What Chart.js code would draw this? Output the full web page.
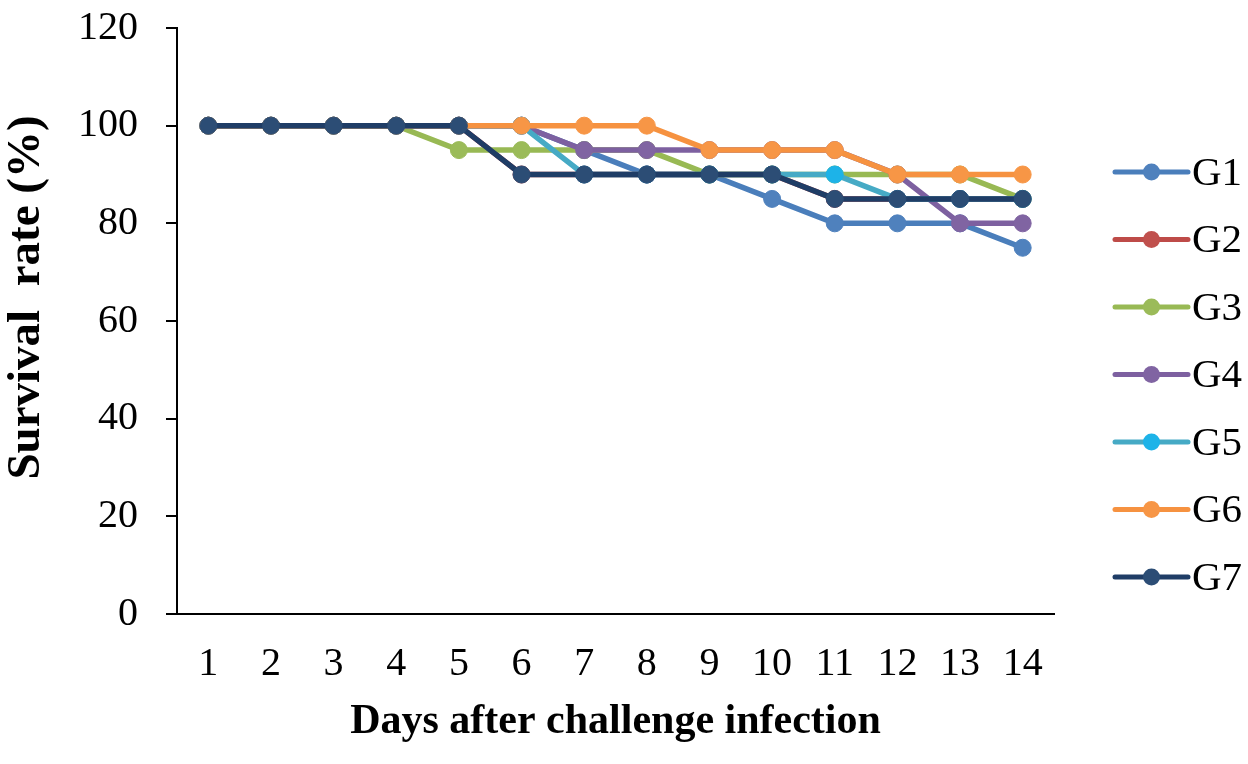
<!DOCTYPE html>
<html>
<head>
<meta charset="utf-8">
<script src="https://cdn.jsdelivr.net/npm/chart.js@4.4.1/dist/chart.umd.min.js"></script>
<style>
  html, body { margin: 0; padding: 0; background: #fff; }
  #chart { display: block; }
</style>
</head>
<body>
<canvas id="chart" width="1248" height="764"></canvas>
<script>
const days = ["1", "2", "3", "4", "5", "6", "7", "8", "9", "10", "11", "12", "13", "14"];
const yTicks = [0, 20, 40, 60, 80, 100, 120];

const seriesNames = ["G1", "G2", "G3", "G4", "G5", "G6", "G7"];
const g1 = [100, 100, 100, 100, 100, 100, 95, 90, 90, 85, 80, 80, 80, 75];
const g2 = [100, 100, 100, 100, 100, 90, 90, 90, 90, 90, 85, 85, 85, 85];
const g3 = [100, 100, 100, 100, 95, 95, 95, 95, 90, 90, 90, 90, 90, 85];
const g4 = [100, 100, 100, 100, 100, 100, 95, 95, 95, 95, 95, 90, 80, 80];
const g5 = [100, 100, 100, 100, 100, 100, 90, 90, 90, 90, 90, 85, 85, 85];
const g6 = [100, 100, 100, 100, 100, 100, 100, 100, 95, 95, 95, 90, 90, 90];
const g7 = [100, 100, 100, 100, 100, 90, 90, 90, 90, 90, 85, 85, 85, 85];

const lineColors = ["#4A7EBB", "#BE4B48", "#98B954", "#7D60A0", "#46AAC5", "#F69240", "#1F3D66"];
const pointColors = ["#4F81BD", "#C0504D", "#9BBB59", "#8064A2", "#1DB3E8", "#F79646", "#2C4D75"];

const font = "'Liberation Serif', 'DejaVu Serif', serif";

// Excel-style legend: a short line with a marker in the middle
const sideLegend = {
    id: 'sideLegend',
    afterDraw(chart) {
        const ctx = chart.ctx;
        const x0 = 1115, lineLen = 73, top = 172, step = 67.5;
        ctx.save();
        chart.data.datasets.forEach((ds, i) => {
            const y = top + i * step;
            ctx.strokeStyle = ds.borderColor;
            ctx.lineWidth = 5;
            ctx.lineCap = 'round';
            ctx.beginPath();
            ctx.moveTo(x0, y);
            ctx.lineTo(x0 + lineLen, y);
            ctx.stroke();
            ctx.fillStyle = ds.pointBackgroundColor;
            ctx.beginPath();
            ctx.arc(x0 + lineLen / 2, y, 8.5, 0, Math.PI * 2);
            ctx.fill();
            ctx.fillStyle = '#000';
            ctx.font = "41px " + font;
            ctx.textBaseline = 'middle';
            ctx.textAlign = 'left';
            ctx.fillText(ds.label, x0 + lineLen + 4, y + 2);
        });
        ctx.restore();
    }
};

const allSeries = [g1, g2, g3, g4, g5, g6, g7];

const datasets = allSeries.map((values, i) => ({
    label: seriesNames[i],
    data: values,
    borderColor: lineColors[i],
    backgroundColor: pointColors[i],
    pointBackgroundColor: pointColors[i],
    pointBorderColor: pointColors[i],
    borderWidth: 5.5,
    pointRadius: 8.5,
    pointBorderWidth: 1,
    pointHoverRadius: 8.5,
    tension: 0,
    order: allSeries.length - i   // later groups drawn on top
}));

new Chart(document.getElementById('chart'), {
    type: 'line',
    data: { labels: days, datasets: datasets },
    options: {
        responsive: false,
        animation: false,
        devicePixelRatio: 1,
        layout: { padding: { left: 3, right: 194, top: 28, bottom: 21 } },
        plugins: {
            legend: { display: false },
            tooltip: { enabled: false }
        },
        scales: {
            x: {
                type: 'category',
                offset: true,
                grid: { display: false, drawTicks: false },
                border: { display: true, color: '#000', width: 2 },
                ticks: { color: '#000', padding: 30, font: { family: font, size: 40, lineHeight: 1 } },
                title: {
                    display: true,
                    text: 'Days after challenge infection',
                    color: '#000',
                    padding: { top: 0, bottom: 0 },
                    font: { family: font, size: 42, weight: 'bold', lineHeight: 1 }
                },
                afterFit(scale) {
                    scale.height = 129;
                }
            },
            y: {
                min: 0,
                max: 120,
                afterBuildTicks(axis) {
                    axis.ticks = yTicks.map(v => ({ value: v }));
                },
                afterFit(scale) {
                    scale.paddingTop = 0;
                    scale.paddingBottom = 0;
                },
                grid: { drawOnChartArea: false, drawTicks: true, tickLength: 11, color: '#000', lineWidth: 2 },
                border: { display: true, color: '#000', width: 2 },
                ticks: { color: '#000', padding: 28, font: { family: font, size: 40, lineHeight: 1 } },
                title: {
                    display: true,
                    // leading spaces nudge the rotated title up, as in the original
                    text: '    Survival  rate (%)',
                    color: '#000',
                    padding: { top: 0, bottom: 0 },
                    font: { family: font, size: 47, weight: 'bold', lineHeight: 1 }
                }
            }
        }
    },
    plugins: [sideLegend]
});
</script>
</body>
</html>
